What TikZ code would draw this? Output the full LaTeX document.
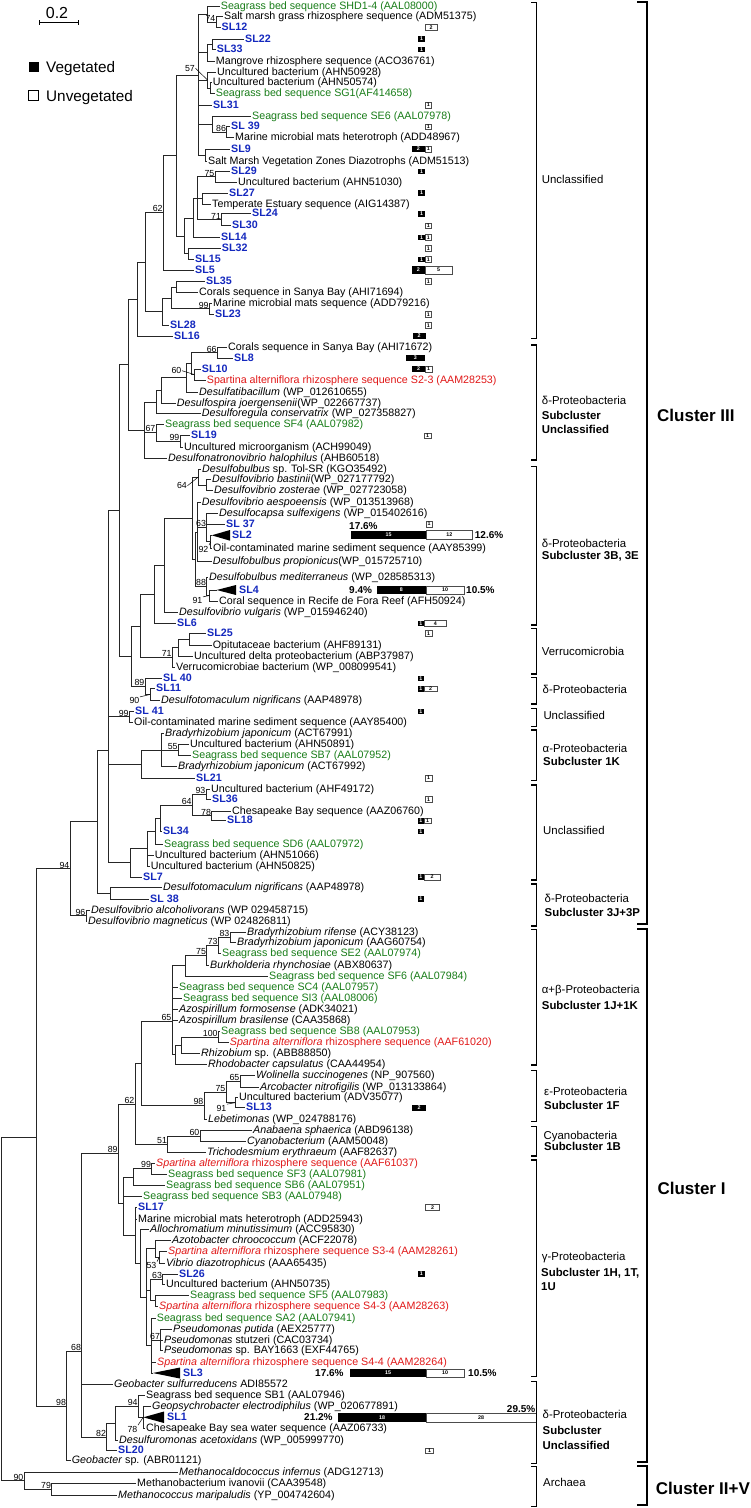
\documentclass[tikz,border=0pt]{standalone}
\usepackage{fontspec}
\setmainfont{Liberation Sans}
\definecolor{sggreen}{RGB}{25,125,25}
\definecolor{slblue}{RGB}{20,40,190}
\definecolor{spred}{RGB}{225,25,25}
\tikzset{
 brl/.style={line width=0.95pt, draw=black!85},
 lab/.style={anchor=west, inner xsep=1pt, inner ysep=0pt, font=\fontsize{10.7}{11}\selectfont, text height=7.8pt, text depth=1.6pt},
 slb/.style={lab, text=slblue, font=\fontsize{10.7}{11}\selectfont\bfseries},
 sgl/.style={lab, text=sggreen},
 spl/.style={lab, text=spred},
 bsl/.style={anchor=south east, inner sep=0.5pt, font=\fontsize{8.8}{9}\selectfont},
 bsq/.style={inner sep=0.5pt, font=\fontsize{8.8}{9}\selectfont, text height=6.3pt, text depth=0pt},
 ptr/.style={line width=0.5pt},
 cnt/.style={inner sep=0pt, font=\fontsize{5.3}{5.3}\selectfont\bfseries},
 wbox/.style={draw=black!70, line width=0.6pt, fill=white},
 pct/.style={inner sep=0pt, font=\fontsize{10}{10}\selectfont\bfseries, text height=7.2pt, text depth=0pt},
 grp/.style={anchor=west, inner sep=0pt, font=\fontsize{11.4}{12}\selectfont, text height=8.2pt, text depth=2.2pt},
 grpb/.style={grp, font=\fontsize{11.4}{12}\selectfont\bfseries},
 clu/.style={anchor=west, inner sep=0pt, font=\fontsize{17}{18}\selectfont\bfseries},
 sbr/.style={line width=1.2pt},
 cbr/.style={line width=2.2pt},
 lgd/.style={anchor=west, inner sep=0pt, font=\fontsize{15.3}{16}\selectfont, text height=11pt, text depth=0pt},
}
\newcommand\leafn[5]{\coordinate (#1) at ({#2-1},#3); \node[#4] (t#1) at (#1) {#5};}
\newcommand\kidsn[2]{\foreach \kk in {#2}{\draw[brl] (#1) |- (\kk);}}
\newcommand\bsn[2]{\node[bsl] (bs#1) at (#1) {#2};}
\newcommand\bspn[5]{\node[bsq,anchor=east] (bp#1) at (#2) {#3}; \draw[ptr] (bp#1.#5) -- (#4);}
\newcommand\blkbox[6]{\fill (#2,{#4-#5}) rectangle (#3,{#4+#5}); \node[cnt,text=white] (#1) at ({(#2+#3)/2},#4) {#6};}
\newcommand\whtbox[6]{\draw[wbox] (#2,{#4-#5}) rectangle (#3,{#4+#5}); \node[cnt] (#1) at ({(#2+#3)/2},#4) {#6};}
\newcommand\sbrk[2]{\draw[sbr] (531,#1) -- (536.7,#1) -- (536.7,#2) -- (531,#2);}
\newcommand\cbrk[2]{\draw[cbr] (637.3,#1) -- (646.7,#1) -- (646.7,#2) -- (637.3,#2);}
\begin{document}
\begin{tikzpicture}[x=1pt,y=-1pt]
\useasboundingbox (0,0) rectangle (751,1508);
\fill[white] (0,0) rectangle (751,1508);

% ---------- legend ----------
\node[inner sep=0pt, font=\fontsize{16}{16}\selectfont] (scl) at (57,12.5) {0.2};
\coordinate (sa) at (39,22.7); \coordinate (sb) at (78.3,22.7);
\draw[line width=0.8pt] (sa) -- (sb);
\draw[line width=0.8pt] (39,20.2) -- (39,25.2) (78.3,20.2) -- (78.3,25.2);
\fill (28.5,61.5) rectangle (38.5,71.5);
\draw[line width=0.8pt] (28.8,90.8) rectangle (38.5,100.3);
\node[lgd] (lgv) at (46,66.5) {Vegetated};
\node[lgd] (lgu) at (46,95.5) {Unvegetated};

% ---------- leaves ----------
\leafn{l1}{220.7}{6}{sgl}{Seagrass bed sequence SHD1-4 (AAL08000)}
\leafn{l2}{224}{16.7}{lab}{Salt marsh grass rhizosphere sequence (ADM51375)}
\leafn{l3}{221.5}{27.3}{slb}{SL12}
\leafn{l4}{245}{39}{slb}{SL22}
\leafn{l5}{216.7}{49.3}{slb}{SL33}
\leafn{l6}{215.7}{61.3}{lab}{Mangrove rhizosphere sequence (ACO36761)}
\leafn{l7}{217}{72}{lab}{Uncultured bacterium (AHN50928)}
\leafn{l8}{212.7}{82.7}{lab}{Uncultured bacterium (AHN50574)}
\leafn{l9}{215.7}{93.7}{sgl}{Seagrass bed sequence SG1(AF414658)}
\leafn{l10}{213}{105}{slb}{SL31}
\leafn{l11}{252}{116}{sgl}{Seagrass bed sequence SE6 (AAL07978)}
\leafn{l12}{231}{126.7}{slb}{SL 39}
\leafn{l13}{235}{137.7}{lab}{Marine microbial mats heterotroph (ADD48967)}
\leafn{l14}{231}{149}{slb}{SL9}
\leafn{l15}{208}{161}{lab}{Salt Marsh Vegetation Zones Diazotrophs (ADM51513)}
\leafn{l16}{231}{171.3}{slb}{SL29}
\leafn{l17}{238}{182.3}{lab}{Uncultured bacterium (AHN51030)}
\leafn{l18}{229}{193}{slb}{SL27}
\leafn{l19}{212}{204}{lab}{Temperate Estuary sequence (AIG14387)}
\leafn{l20}{252}{213.7}{slb}{SL24}
\leafn{l21}{232}{225.7}{slb}{SL30}
\leafn{l22}{221}{237.3}{slb}{SL14}
\leafn{l23}{221.7}{248.3}{slb}{SL32}
\leafn{l24}{195}{259.3}{slb}{SL15}
\leafn{l25}{195}{270}{slb}{SL5}
\leafn{l26}{206}{281.3}{slb}{SL35}
\leafn{l27}{199}{292.7}{lab}{Corals sequence in Sanya Bay (AHI71694)}
\leafn{l28}{213}{303.3}{lab}{Marine microbial mats sequence (ADD79216)}
\leafn{l29}{215}{314.3}{slb}{SL23}
\leafn{l30}{170}{325.3}{slb}{SL28}
\leafn{l31}{174}{336}{slb}{SL16}
\leafn{l32}{228}{347.7}{lab}{Corals sequence in Sanya Bay (AHI71672)}
\leafn{l33}{234}{358}{slb}{SL8}
\leafn{l34}{201.7}{369}{slb}{SL10}
\leafn{l35}{206.7}{380}{spl}{Spartina alterniflora rhizosphere sequence S2-3 (AAM28253)}
\leafn{l36}{199}{392}{lab}{\textit{Desulfatibacillum} (WP\_012610655)}
\leafn{l37}{176.7}{403}{lab}{\textit{Desulfospira joergensenii}(WP\_022667737)}
\leafn{l38}{201.7}{413.7}{lab}{\textit{Desulforegula conservatrix} (WP\_027358827)}
\leafn{l39}{165}{424}{sgl}{Seagrass bed sequence SF4 (AAL07982)}
\leafn{l40}{191}{435.7}{slb}{SL19}
\leafn{l41}{184}{447}{lab}{Uncultured microorganism (ACH99049)}
\leafn{l42}{168}{458.3}{lab}{\textit{Desulfonatronovibrio halophilus} (AHB60518)}
\leafn{l43}{202}{469}{lab}{\textit{Desulfobulbus} sp. Tol-SR (KGO35492)}
\leafn{l44}{212}{479.7}{lab}{\textit{Desulfovibrio bastinii}(WP\_027177792)}
\leafn{l45}{214}{490.3}{lab}{\textit{Desulfovibrio zosterae} (WP\_027723058)}
\leafn{l46}{201.7}{502.7}{lab}{\textit{Desulfovibrio aespoeensis} (WP\_013513968)}
\leafn{l47}{219}{513.3}{lab}{\textit{Desulfocapsa sulfexigens} (WP\_015402616)}
\leafn{l48}{226}{524}{slb}{SL 37}
\coordinate (l49) at (211.7,535.3);
\fill (l49) -- (230,530) -- (230,540.7) -- cycle;
\node[slb] (tl49) at (231,535.3) {SL2};
\leafn{l50}{213}{548.3}{lab}{Oil-contaminated marine sediment sequence (AAY85399)}
\leafn{l51}{212.7}{561.7}{lab}{\textit{Desulfobulbus propionicus}(WP\_015725710)}
\leafn{l52}{209}{577.7}{lab}{\textit{Desulfobulbus mediterraneus} (WP\_028585313)}
\coordinate (l53) at (216.7,590);
\fill (l53) -- (236,585) -- (236,595) -- cycle;
\node[slb] (tl53) at (238,590) {SL4};
\leafn{l54}{219}{601}{lab}{Coral sequence in Recife de Fora Reef (AFH50924)}
\leafn{l55}{179}{612.3}{lab}{\textit{Desulfovibrio vulgaris} (WP\_015946240)}
\leafn{l56}{177}{623.3}{slb}{SL6}
\leafn{l57}{207}{633.3}{slb}{SL25}
\leafn{l58}{212.7}{645.7}{lab}{Opitutaceae bacterium (AHF89131)}
\leafn{l59}{194}{656.3}{lab}{Uncultured delta proteobacterium (ABP37987)}
\leafn{l60}{176}{667.3}{lab}{Verrucomicrobiae bacterium (WP\_008099541)}
\leafn{l61}{163}{678.3}{slb}{SL 40}
\leafn{l62}{156}{688.7}{slb}{SL11}
\leafn{l63}{161}{700.3}{lab}{\textit{Desulfotomaculum nigrificans} (AAP48978)}
\leafn{l64}{135}{711.3}{slb}{SL 41}
\leafn{l65}{134}{722.3}{lab}{Oil-contaminated marine sediment sequence (AAY85400)}
\leafn{l66}{165}{733.3}{lab}{\textit{Bradyrhizobium japonicum} (ACT67991)}
\leafn{l67}{190}{744.7}{lab}{Uncultured bacterium (AHN50891)}
\leafn{l68}{192}{755.7}{sgl}{Seagrass bed sequence SB7 (AAL07952)}
\leafn{l69}{178}{766.7}{lab}{\textit{Bradyrhizobium japonicum} (ACT67992)}
\leafn{l70}{196}{778}{slb}{SL21}
\leafn{l71}{211}{789}{lab}{Uncultured bacterium (AHF49172)}
\leafn{l72}{212}{799.3}{slb}{SL36}
\leafn{l73}{232}{811}{lab}{Chesapeake Bay sequence (AAZ06760)}
\leafn{l74}{227}{820.7}{slb}{SL18}
\leafn{l75}{163}{831.3}{slb}{SL34}
\leafn{l76}{164}{844}{sgl}{Seagrass bed sequence SD6 (AAL07972)}
\leafn{l77}{154.7}{855.3}{lab}{Uncultured bacterium (AHN51066)}
\leafn{l78}{150.7}{866.3}{lab}{Uncultured bacterium (AHN50825)}
\leafn{l79}{143}{877}{slb}{SL7}
\leafn{l80}{163}{887.7}{lab}{\textit{Desulfotomaculum nigrificans} (AAP48978)}
\leafn{l81}{150}{899}{slb}{SL 38}
\leafn{l82}{91}{910.3}{lab}{\textit{Desulfovibrio alcoholivorans} (WP 029458715)}
\leafn{l83}{88}{921.3}{lab}{\textit{Desulfovibrio magneticus} (WP 024826811)}
\leafn{l84}{247}{932}{lab}{\textit{Bradyrhizobium rifense} (ACY38123)}
\leafn{l85}{237}{942.7}{lab}{\textit{Bradyrhizobium japonicum} (AAG60754)}
\leafn{l86}{222}{953.3}{sgl}{Seagrass bed sequence SE2 (AAL07974)}
\leafn{l87}{210}{965}{lab}{\textit{Burkholderia rhynchosiae} (ABX80637)}
\leafn{l88}{269}{976.3}{sgl}{Seagrass bed sequence SF6 (AAL07984)}
\leafn{l89}{179}{987.3}{sgl}{Seagrass bed sequence SC4 (AAL07957)}
\leafn{l90}{183}{998.3}{sgl}{Seagrass bed sequence SI3 (AAL08006)}
\leafn{l91}{179}{1009.3}{lab}{\textit{Azospirillum formosense} (ADK34021)}
\leafn{l92}{179}{1020.3}{lab}{\textit{Azospirillum brasilense} (CAA35868)}
\leafn{l93}{221}{1031.7}{sgl}{Seagrass bed sequence SB8 (AAL07953)}
\leafn{l94}{229.7}{1042.3}{spl}{\textit{Spartina alterniflora} rhizosphere sequence (AAF61020)}
\leafn{l95}{201}{1053}{lab}{\textit{Rhizobium} sp. (ABB88850)}
\leafn{l96}{208}{1064.3}{lab}{\textit{Rhodobacter capsulatus} (CAA44954)}
\leafn{l97}{256}{1075.7}{lab}{\textit{Wolinella succinogenes} (NP\_907560)}
\leafn{l98}{260}{1087}{lab}{\textit{Arcobacter nitrofigilis} (WP\_013133864)}
\leafn{l99}{239}{1097.7}{lab}{Uncultured bacterium (ADV35077)}
\leafn{l100}{246}{1107.7}{slb}{SL13}
\leafn{l101}{208}{1119}{lab}{\textit{Lebetimonas} (WP\_024788176)}
\leafn{l102}{253}{1130.7}{lab}{\textit{Anabaena sphaerica} (ABD96138)}
\leafn{l103}{247}{1141.7}{lab}{\textit{Cyanobacterium} (AAM50048)}
\leafn{l104}{207}{1152.7}{lab}{\textit{Trichodesmium erythraeum} (AAF82637)}
\leafn{l105}{156}{1163.3}{spl}{\textit{Spartina alterniflora} rhizosphere sequence (AAF61037)}
\leafn{l106}{168}{1174}{sgl}{Seagrass bed sequence SF3 (AAL07981)}
\leafn{l107}{166}{1185.3}{sgl}{Seagrass bed sequence SB6 (AAL07951)}
\leafn{l108}{143}{1196.7}{sgl}{Seagrass bed sequence SB3 (AAL07948)}
\leafn{l109}{138}{1207.3}{slb}{SL17}
\leafn{l110}{138}{1219}{lab}{Marine microbial mats heterotroph (ADD25943)}
\leafn{l111}{150}{1229.7}{lab}{\textit{Allochromatium minutissimum} (ACC95830)}
\leafn{l112}{172}{1240.3}{lab}{\textit{Azotobacter chroococcum} (ACF22078)}
\leafn{l113}{168}{1251}{spl}{\textit{Spartina alterniflora} rhizosphere sequence S3-4 (AAM28261)}
\leafn{l114}{166}{1263.3}{lab}{\textit{Vibrio diazotrophicus} (AAA65435)}
\leafn{l115}{179}{1274}{slb}{SL26}
\leafn{l116}{166}{1284.7}{lab}{Uncultured bacterium (AHN50735)}
\leafn{l117}{190}{1295}{sgl}{Seagrass bed sequence SF5 (AAL07983)}
\leafn{l118}{159}{1306.7}{spl}{\textit{Spartina alterniflora} rhizosphere sequence S4-3 (AAM28263)}
\leafn{l119}{156.7}{1318.7}{sgl}{Seagrass bed sequence SA2 (AAL07941)}
\leafn{l120}{173}{1329.3}{lab}{\textit{Pseudomonas putida} (AEX25777)}
\leafn{l121}{164}{1340}{lab}{\textit{Pseudomonas} stutzeri (CAC03734)}
\leafn{l122}{164}{1350.7}{lab}{\textit{Pseudomonas} sp. BAY1663 (EXF44765)}
\leafn{l123}{157}{1362}{spl}{\textit{Spartina alterniflora} rhizosphere sequence S4-4 (AAM28264)}
\coordinate (l124) at (152.7,1373);
\fill (l124) -- (180,1367.5) -- (180,1378.5) -- cycle;
\node[slb] (tl124) at (182,1373) {SL3};
\leafn{l125}{114}{1384.3}{lab}{\textit{Geobacter sulfurreducens} ADI85572}
\leafn{l126}{146}{1395.3}{lab}{Seagrass bed sequence SB1 (AAL07946)}
\leafn{l127}{152}{1406}{lab}{\textit{Geopsychrobacter electrodiphilus} (WP\_020677891)}
\coordinate (l128) at (143.3,1417.3);
\fill (l128) -- (164,1411.5) -- (164,1423) -- cycle;
\node[slb] (tl128) at (166,1417.3) {SL1};
\leafn{l129}{146}{1428.3}{lab}{Chesapeake Bay sea water sequence (AAZ06733)}
\leafn{l130}{119}{1440}{lab}{\textit{Desulfuromonas acetoxidans} (WP\_005999770)}
\leafn{l131}{118}{1450.7}{slb}{SL20}
\leafn{l132}{71.7}{1460.3}{lab}{\textit{Geobacter} sp. (ABR01121)}
\leafn{l133}{179}{1472.3}{lab}{\textit{Methanocaldococcus infernus} (ADG12713)}
\leafn{l134}{137}{1483.3}{lab}{Methanobacterium ivanovii (CAA39548)}
\leafn{l135}{118}{1495.7}{lab}{\textit{Methanococcus maripaludis} (YP\_004742604)}

% ---------- internal nodes ----------
\coordinate (n74) at (216,22);
\coordinate (nB) at (207.3,14);
\coordinate (nC1) at (212.7,44.2);
\coordinate (nC2) at (207.3,52.7);
\coordinate (nD2) at (210,88.2);
\coordinate (nD) at (207.5,80);
\coordinate (nF86) at (226.7,132.2);
\coordinate (nF2) at (212.7,124);
\coordinate (nG) at (205.7,155);
\coordinate (nE) at (198.3,75);
\coordinate (n75a) at (215,176.8);
\coordinate (nI27) at (202.7,198.5);
\coordinate (n71a) at (221.7,219.7);
\coordinate (nI1) at (197.7,198.5);
\coordinate (nI2) at (193.3,218);
\coordinate (nI3) at (188,253.8);
\coordinate (nI4) at (184.5,236);
\coordinate (nJ) at (176.7,155);
\coordinate (nK) at (163.3,212.5);
\coordinate (n99a) at (209.3,308.8);
\coordinate (nL35) at (176.7,287);
\coordinate (nL1) at (171.7,298);
\coordinate (nL2) at (162.3,311.7);
\coordinate (nM) at (145.7,262);
\coordinate (nN) at (137.7,299);
\coordinate (n66) at (217.3,352.8);
\coordinate (n60) at (194.3,374.5);
\coordinate (nP1) at (191.7,363.7);
\coordinate (nP2) at (186.7,377.9);
\coordinate (nP3) at (161.7,390.5);
\coordinate (nP4) at (156.7,402);
\coordinate (n99b) at (180,441.3);
\coordinate (n67) at (156,432.7);
\coordinate (nP5) at (144,430);
\coordinate (nO) at (128.3,364.5);
\coordinate (nZo) at (206.7,485);
\coordinate (n64a) at (198.3,477);
\coordinate (n92) at (210.7,541.8);
\coordinate (n63) at (206.7,527.6);
\coordinate (nQ1) at (197.7,532.2);
\coordinate (n91) at (209.5,595.5);
\coordinate (n88) at (206.7,586.6);
\coordinate (nQ3) at (195,559.4);
\coordinate (nQ2) at (192.7,518.2);
\coordinate (nR1) at (164.3,565.3);
\coordinate (nR2) at (154.3,594.3);
\coordinate (n189) at (189,639.5);
\coordinate (n178) at (178.3,647.9);
\coordinate (n71b) at (172.3,657.6);
\coordinate (nR3) at (140,626);
\coordinate (n90) at (150,694.5);
\coordinate (n89) at (145,686.4);
\coordinate (nR4) at (131.7,656.2);
\coordinate (nR5) at (119.3,510.4);
\coordinate (n99c) at (129.3,716.8);
\coordinate (n55) at (178.3,750.2);
\coordinate (nT1) at (161,750);
\coordinate (nT2) at (141.7,764);
\coordinate (n93) at (206,794.2);
\coordinate (n78a) at (211.7,815.9);
\coordinate (n64b) at (192.3,805);
\coordinate (nV1) at (160.7,818.2);
\coordinate (nV2) at (155,831.1);
\coordinate (nV3) at (147.7,848.7);
\coordinate (nV5) at (130.7,862.9);
\coordinate (nS1) at (108,750);
\coordinate (nU) at (110,893.4);
\coordinate (nW) at (97.3,821.7);
\coordinate (n96) at (86,915.8);
\coordinate (n94) at (70,868.8);
\coordinate (n83) at (230,937.4);
\coordinate (n73) at (218.3,945.3);
\coordinate (n75b) at (206.7,955.2);
\coordinate (nSF6) at (185.7,965.7);
\coordinate (n100) at (218.3,1037);
\coordinate (nRh) at (181.7,1045);
\coordinate (nBB) at (175,1054.7);
\coordinate (n65a) at (172,1021.7);
\coordinate (n65b) at (240,1081.3);
\coordinate (n91b) at (235,1102.7);
\coordinate (n75c) at (226,1092);
\coordinate (n98a) at (204,1105.5);
\coordinate (nAA) at (141.7,1063.6);
\coordinate (n60b) at (200,1136.2);
\coordinate (n51) at (167.7,1144.4);
\coordinate (n62b) at (135,1104);
\coordinate (n99d) at (151.7,1168.7);
\coordinate (n133) at (133.3,1177);
\coordinate (nGE53) at (159.3,1257.2);
\coordinate (nGE) at (155,1248.7);
\coordinate (n63b) at (162.7,1279.3);
\coordinate (nSF5) at (155,1300.8);
\coordinate (nGF) at (150.7,1290);
\coordinate (n67b) at (160.7,1340);
\coordinate (nGG) at (151.7,1345.8);
\coordinate (nGD) at (146.7,1297.3);
\coordinate (nGC) at (140,1263.5);
\coordinate (nGB) at (135.5,1235.4);
\coordinate (nGA) at (123.3,1203);
\coordinate (n89b) at (118.3,1153.5);
\coordinate (n78b) at (143.3,1417.2);
\coordinate (n94b) at (138.3,1406.3);
\coordinate (nHH) at (115,1423.2);
\coordinate (n82) at (106.7,1437);
\coordinate (n68) at (81.7,1351.7);
\coordinate (n98b) at (66.7,1406);
\coordinate (nZ) at (36,1137.4);
\coordinate (n79) at (51.7,1489.5);
\coordinate (n90b) at (24,1480.9);
\coordinate (nRoot) at (1.7,1309);

% ---------- branches ----------
\kidsn{n74}{l2,l3}
\kidsn{nB}{l1,n74}
\kidsn{nC1}{l4,l5}
\kidsn{nC2}{nC1,l6}
\kidsn{nD2}{l8,l9}
\kidsn{nD}{l7,nD2}
\kidsn{nF86}{l12,l13}
\kidsn{nF2}{l11,nF86}
\kidsn{nG}{l14,l15}
\kidsn{nE}{nB,nC2,nD,l10,nF2,nG}
\kidsn{n75a}{l16,l17}
\kidsn{nI27}{l18,l19}
\kidsn{n71a}{l20,l21}
\kidsn{nI1}{n75a,nI27,n71a}
\kidsn{nI2}{nI1,l22}
\kidsn{nI3}{l23,l24}
\kidsn{nI4}{nI2,nI3}
\kidsn{nJ}{nE,nI4}
\kidsn{nK}{nJ,l25}
\kidsn{n99a}{l28,l29}
\kidsn{nL35}{l26,l27}
\kidsn{nL1}{nL35,n99a}
\kidsn{nL2}{nL1,l30}
\kidsn{nM}{nK,nL2}
\kidsn{nN}{nM,l31}
\kidsn{n66}{l32,l33}
\kidsn{n60}{l34,l35}
\kidsn{nP1}{n66,n60}
\kidsn{nP2}{nP1,l36}
\kidsn{nP3}{nP2,l37}
\kidsn{nP4}{nP3,l38}
\kidsn{n99b}{l40,l41}
\kidsn{n67}{l39,n99b}
\kidsn{nP5}{nP4,n67,l42}
\kidsn{nO}{nN,nP5}
\kidsn{nZo}{l44,l45}
\kidsn{n64a}{l43,nZo}
\kidsn{n92}{l49,l50}
\kidsn{n63}{l47,l48,n92}
\kidsn{nQ1}{l46,n63,l51}
\kidsn{n91}{l53,l54}
\kidsn{n88}{l52,n91}
\kidsn{nQ3}{nQ1,n88}
\kidsn{nQ2}{n64a,nQ3}
\kidsn{nR1}{nQ2,l55}
\kidsn{nR2}{nR1,l56}
\kidsn{n189}{l57,l58}
\kidsn{n178}{n189,l59}
\kidsn{n71b}{n178,l60}
\kidsn{nR3}{nR2,n71b}
\kidsn{n90}{l62,l63}
\kidsn{n89}{l61,n90}
\kidsn{nR4}{nR3,n89}
\kidsn{nR5}{nO,nR4}
\kidsn{n99c}{l64,l65}
\kidsn{n55}{l67,l68}
\kidsn{nT1}{l66,n55,l69}
\kidsn{nT2}{nT1,l70}
\kidsn{n93}{l71,l72}
\kidsn{n78a}{l73,l74}
\kidsn{n64b}{n93,n78a}
\kidsn{nV1}{n64b,l75}
\kidsn{nV2}{nV1,l76}
\kidsn{nV3}{nV2,l77,l78}
\kidsn{nV5}{nV3,l79}
\kidsn{nS1}{nR5,n99c,nT2,nV5}
\kidsn{nU}{l80,l81}
\kidsn{nW}{nS1,nU}
\kidsn{n96}{l82,l83}
\kidsn{n94}{nW,n96}
\kidsn{n83}{l84,l85}
\kidsn{n73}{n83,l86}
\kidsn{n75b}{n73,l87}
\kidsn{nSF6}{n75b,l88}
\kidsn{n100}{l93,l94}
\kidsn{nRh}{n100,l95}
\kidsn{nBB}{nRh,l96}
\kidsn{n65a}{nSF6,l89,l90,l91,l92,nBB}
\kidsn{n65b}{l97,l98}
\kidsn{n91b}{l99,l100}
\kidsn{n75c}{n65b,n91b}
\kidsn{n98a}{n75c,l101}
\kidsn{nAA}{n65a,n98a}
\kidsn{n60b}{l102,l103}
\kidsn{n51}{n60b,l104}
\kidsn{n62b}{nAA,n51}
\kidsn{n99d}{l105,l106}
\kidsn{n133}{n99d,l107}
\kidsn{nGE53}{l113,l114}
\kidsn{nGE}{l112,nGE53}
\kidsn{n63b}{l115,l116}
\kidsn{nSF5}{l117,l118}
\kidsn{nGF}{n63b,nSF5}
\kidsn{n67b}{l120,l121,l122}
\kidsn{nGG}{l119,n67b,l123,l124}
\kidsn{nGD}{nGE,nGF,nGG}
\kidsn{nGC}{l111,nGD}
\kidsn{nGB}{l109,l110,nGC}
\kidsn{nGA}{n133,l108,nGB}
\kidsn{n89b}{n62b,nGA}
\kidsn{n78b}{l127,l128,l129}
\kidsn{n94b}{l126,n78b}
\kidsn{nHH}{n94b,l130}
\kidsn{n82}{nHH,l131}
\kidsn{n68}{n89b,l125,n82}
\kidsn{n98b}{n68,l132}
\kidsn{nZ}{n94,n98b}
\kidsn{n79}{l134,l135}
\kidsn{n90b}{l133,n79}
\kidsn{nRoot}{nZ,n90b}

% ---------- bootstrap values ----------
\bsn{n74}{74}
\bsn{nF86}{86}
\bsn{n75a}{75}
\bsn{n71a}{71}
\bsn{nK}{62}
\bsn{n99a}{99}
\bsn{n66}{66}
\bsn{n67}{67}
\bsn{n99b}{99}
\bsn{n63}{63}
\bsn{n88}{88}
\bsn{n71b}{71}
\bsn{n89}{89}
\bsn{n99c}{99}
\bsn{n55}{55}
\bsn{n93}{93}
\bsn{n78a}{78}
\bsn{n64b}{64}
\bsn{n96}{96}
\bsn{n94}{94}
\bsn{n83}{83}
\bsn{n73}{73}
\bsn{n75b}{75}
\bsn{n65a}{65}
\bsn{n100}{100}
\bsn{n65b}{65}
\bsn{n75c}{75}
\bsn{n98a}{98}
\bsn{n60b}{60}
\bsn{n51}{51}
\bsn{n62b}{62}
\bsn{n89b}{89}
\bsn{n99d}{99}
\bsn{n63b}{63}
\bsn{n67b}{67}
\bsn{n68}{68}
\bsn{n98b}{98}
\bsn{n94b}{94}
\bsn{n82}{82}
\bsn{n90b}{90}
\bsn{n79}{79}
\bspn{nD}{195.5,68.3}{57}{nD}{east}
\bspn{n60}{182,370.7}{60}{n60}{east}
\bspn{n64a}{187.5,485.7}{64}{n64a}{east}
\bspn{n92}{209,549}{92}{n92}{north east}
\bspn{n91}{203,600.7}{91}{n91}{north east}
\bspn{n90}{140,700.7}{90}{n90}{north east}
\bspn{n91b}{227,1108}{91}{n91b}{north east}
\bspn{nGE53}{157,1265.5}{53}{nGE53}{north east}
\bspn{n78b}{138,1429}{78}{n78b}{north east}

% ---------- abundance bars ----------
\whtbox{c3}{425}{437.3}{27.3}{2.8}{2}
\blkbox{c4}{418.3}{424.8}{39}{2.8}{1}
\blkbox{c5}{418.3}{424.8}{49.3}{2.8}{1}
\whtbox{c10}{425}{431.7}{105}{2.8}{1}
\whtbox{c12}{425}{431.7}{126.7}{2.8}{1}
\blkbox{c14a}{411.7}{425}{149}{2.8}{2}
\whtbox{c14b}{425}{431.7}{149}{2.8}{1}
\blkbox{c16}{418.3}{424.8}{171.3}{2.8}{1}
\blkbox{c18}{418.3}{424.8}{193}{2.8}{1}
\blkbox{c20}{418.3}{424.8}{213.7}{2.8}{1}
\whtbox{c21}{425}{431.7}{225.7}{2.8}{1}
\blkbox{c22a}{418.3}{425}{237.3}{2.8}{1}
\whtbox{c22b}{425}{431.7}{237.3}{2.8}{1}
\whtbox{c23}{425}{431.7}{248.3}{2.8}{1}
\blkbox{c24a}{418.3}{425}{259.3}{2.8}{1}
\whtbox{c24b}{425}{431.7}{259.3}{2.8}{1}
\blkbox{c25a}{411.7}{425}{270}{3.8}{2}
\whtbox{c25b}{425}{452.3}{270}{3.8}{5}
\whtbox{c26}{425}{431.7}{281.3}{2.8}{1}
\whtbox{c29}{425}{431.7}{314.3}{2.8}{1}
\whtbox{c30}{425}{431.7}{325.3}{2.8}{1}
\blkbox{c31}{412.7}{425.7}{336}{3.3}{2}
\blkbox{c33}{405.7}{425}{358}{3.3}{3}
\blkbox{c34a}{412}{425}{369}{2.8}{2}
\whtbox{c34b}{425}{432}{369}{2.8}{1}
\whtbox{c40}{424}{431}{435.7}{2.8}{1}
\whtbox{c48}{426}{432.3}{524}{2.8}{1}
\blkbox{c49a}{351}{426}{534.7}{4.2}{15}
\whtbox{c49b}{426}{472.7}{534.7}{4.2}{12}
\blkbox{c53a}{376.7}{426}{590}{4.2}{8}
\whtbox{c53b}{426}{464.3}{590}{4.2}{10}
\blkbox{c56a}{417.7}{424}{623.3}{2.8}{1}
\whtbox{c56b}{424}{446.7}{623.3}{2.8}{4}
\whtbox{c57}{425}{432}{633.3}{2.8}{1}
\blkbox{c61}{417.7}{424}{678.3}{2.8}{1}
\blkbox{c62a}{417.7}{424}{688.7}{2.8}{1}
\whtbox{c62b}{424}{437.3}{688.7}{2.8}{2}
\blkbox{c64}{417.7}{424}{711.3}{2.8}{1}
\whtbox{c70}{425}{432}{778}{2.8}{1}
\whtbox{c72}{425}{432}{799.3}{2.8}{1}
\blkbox{c74a}{417.7}{424}{820.7}{2.8}{1}
\whtbox{c74b}{424}{431}{820.7}{2.8}{1}
\blkbox{c75}{417.7}{424}{831.3}{2.8}{1}
\blkbox{c79a}{417.7}{424}{877}{2.8}{1}
\whtbox{c79b}{424}{440}{877}{2.8}{2}
\blkbox{c81}{417.7}{424}{899}{2.8}{1}
\blkbox{c100}{412.3}{425.7}{1107.7}{2.8}{2}
\whtbox{c109}{425.7}{439.3}{1207.3}{3}{2}
\blkbox{c115}{417.7}{425}{1274}{2.8}{1}
\blkbox{c124a}{350}{426}{1373}{4.2}{15}
\whtbox{c124b}{426}{464.3}{1373}{4.2}{10}
\blkbox{c128a}{338.3}{426}{1417.3}{4.5}{18}
\whtbox{c128b}{426}{536}{1417.3}{4.5}{28}
\whtbox{c131}{425.7}{433.3}{1450.7}{2.8}{1}

\node[pct, anchor=west] (pc1) at (349,526) {17.6\%};
\node[pct, anchor=west] (pc2) at (474.7,535.3) {12.6\%};
\node[pct, anchor=west] (pc3) at (349,590) {9.4\%};
\node[pct, anchor=west] (pc4) at (466,590) {10.5\%};
\node[pct, anchor=west] (pc5) at (315,1373) {17.6\%};
\node[pct, anchor=west] (pc6) at (468,1373) {10.5\%};
\node[pct, anchor=west] (pc7) at (304,1417.3) {21.2\%};
\node[pct, anchor=east] (pc8) at (535.5,1408.5) {29.5\%};

% ---------- group brackets ----------
\sbrk{2.7}{338.3}
\sbrk{345}{460}
\sbrk{466.7}{625}
\sbrk{628.3}{674}
\sbrk{677.3}{704}
\sbrk{708.3}{726.7}
\sbrk{730}{780.7}
\sbrk{785}{880}
\sbrk{884}{926}
\sbrk{929.3}{1065}
\sbrk{1070.7}{1121.7}
\sbrk{1126.7}{1156}
\sbrk{1160}{1376.7}
\sbrk{1381.7}{1463.3}
\sbrk{1466.7}{1506.7}

\node[grp] (g1) at (541.7,180) {Unclassified};
\node[grp] (g2a) at (541.7,401) {δ-Proteobacteria};
\node[grpb] (g2b) at (541.7,416) {Subcluster};
\node[grpb] (g2c) at (541.7,430.7) {Unclassified};
\node[grp] (g3a) at (541.7,544.3) {δ-Proteobacteria};
\node[grpb] (g3b) at (541.7,556.7) {Subcluster 3B, 3E};
\node[grp] (g4) at (541.7,652.7) {Verrucomicrobia};
\node[grp] (g5) at (542.5,690.3) {δ-Proteobacteria};
\node[grp] (g6) at (543.3,716) {Unclassified};
\node[grp] (g7a) at (542.5,749.3) {α-Proteobacteria};
\node[grpb] (g7b) at (543,762.7) {Subcluster 1K};
\node[grp] (g8) at (543,831) {Unclassified};
\node[grp] (g9a) at (544.5,899.3) {δ-Proteobacteria};
\node[grpb] (g9b) at (544.5,913.3) {Subcluster 3J+3P};
\node[grp] (g10a) at (541.7,990.7) {α+β-Proteobacteria};
\node[grpb] (g10b) at (541.7,1006.7) {Subcluster 1J+1K};
\node[grp] (g11a) at (544,1092.3) {ε-Proteobacteria};
\node[grpb] (g11b) at (544,1106.7) {Subcluster 1F};
\node[grp] (g12a) at (543.5,1136) {Cyanobacteria};
\node[grpb] (g12b) at (544,1147.7) {Subcluster 1B};
\node[grp] (g13a) at (541.7,1257.3) {γ-Proteobacteria};
\node[grpb] (g13b) at (541,1273.3) {Subcluster 1H, 1T,};
\node[grpb] (g13c) at (541,1287.3) {1U};
\node[grp] (g14a) at (542.5,1415.7) {δ-Proteobacteria};
\node[grpb] (g14b) at (542.5,1431.7) {Subcluster};
\node[grpb] (g14c) at (542.5,1446) {Unclassified};
\node[grp] (g15) at (543,1483.3) {Archaea};

% ---------- cluster brackets ----------
\cbrk{1.7}{924}
\cbrk{929.3}{1461.7}
\cbrk{1466}{1505}
\node[clu] (k3) at (657,415.7) {Cluster III};
\node[clu] (k1) at (657.3,1188.3) {Cluster I};
\node[clu] (k2) at (655.7,1488.3) {Cluster II+V};
\end{tikzpicture}
\end{document}
